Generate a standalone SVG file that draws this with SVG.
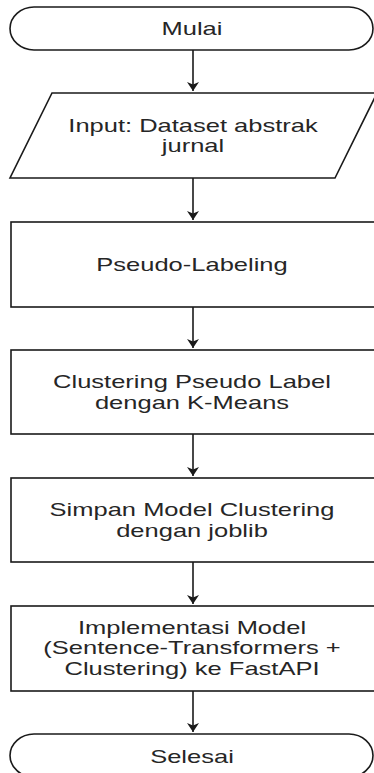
<svg xmlns="http://www.w3.org/2000/svg" width="374" height="773" viewBox="0 0 374 773">
<style>
.s{fill:#ffffff;stroke:#1a1a1a;stroke-width:1.6}
.c{fill:none;stroke:#1a1a1a;stroke-width:1.6}
.t{font-family:"Liberation Sans",Arial,sans-serif;font-size:18px;fill:#262626;text-anchor:middle}
</style>
<defs>
<marker id="ah" markerUnits="userSpaceOnUse" viewBox="0 0 9 12" refX="9" refY="6" markerWidth="9" markerHeight="12" orient="auto">
<path d="M0,0 L9,6 L0,12 L2.5,6 Z" fill="#1a1a1a"/>
</marker>
</defs>
<rect width="374" height="773" fill="#ffffff"/>
<g id="connectors">
<line class="c" x1="193" y1="50" x2="193" y2="91" marker-end="url(#ah)"/>
<line class="c" x1="193" y1="178" x2="193" y2="220" marker-end="url(#ah)"/>
<line class="c" x1="193" y1="307" x2="193" y2="348" marker-end="url(#ah)"/>
<line class="c" x1="193" y1="434" x2="193" y2="476" marker-end="url(#ah)"/>
<line class="c" x1="193" y1="562" x2="193" y2="604" marker-end="url(#ah)"/>
<line class="c" x1="193" y1="691" x2="193" y2="732" marker-end="url(#ah)"/>
</g>
<g id="mulai">
<rect class="s" x="10" y="7" width="363" height="43" rx="24" ry="21.5"/>
<text class="t" transform="translate(192,35) scale(1.417,1)">Mulai</text>
</g>
<g id="input">
<polygon class="s" points="52,93 377,93 335,178 10,178"/>
<text class="t" transform="translate(193,131.5) scale(1.417,1)"><tspan x="0" dy="0">Input: Dataset abstrak</tspan><tspan x="0" dy="20.5">jurnal</tspan></text>
</g>
<g id="pseudo">
<rect class="s" x="11" y="222" width="366" height="85"/>
<text class="t" transform="translate(192,271) scale(1.417,1)">Pseudo-Labeling</text>
</g>
<g id="clustering">
<rect class="s" x="11" y="350" width="366" height="84"/>
<text class="t" transform="translate(192,388.3) scale(1.417,1)"><tspan x="0" dy="0">Clustering Pseudo Label</tspan><tspan x="0" dy="20.8">dengan K-Means</tspan></text>
</g>
<g id="simpan">
<rect class="s" x="11" y="478" width="366" height="84"/>
<text class="t" transform="translate(192,516.3) scale(1.417,1)"><tspan x="0" dy="0">Simpan Model Clustering</tspan><tspan x="0" dy="20.8">dengan joblib</tspan></text>
</g>
<g id="implementasi">
<rect class="s" x="11" y="606" width="366" height="85"/>
<text class="t" transform="translate(192,634.3) scale(1.417,1)"><tspan x="0" dy="0">Implementasi Model</tspan><tspan x="0" dy="20.2">(Sentence-Transformers +</tspan><tspan x="0" dy="20.2">Clustering) ke FastAPI</tspan></text>
</g>
<g id="selesai">
<rect class="s" x="10" y="734" width="363" height="43" rx="24" ry="21.5"/>
<text class="t" transform="translate(192,762.5) scale(1.417,1)">Selesai</text>
</g>
</svg>
